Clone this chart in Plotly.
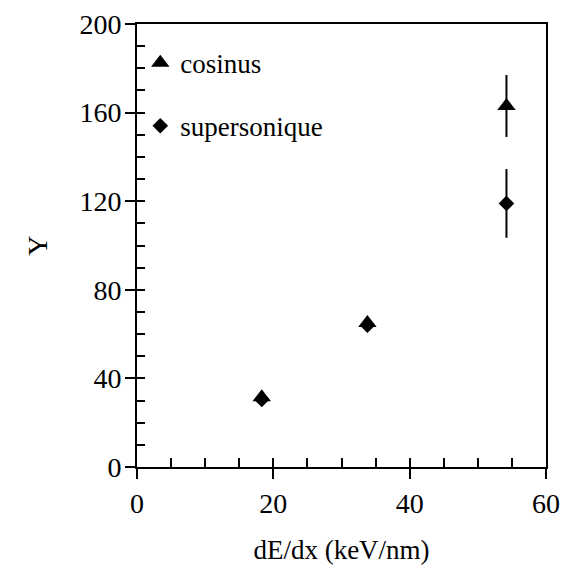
import plotly.graph_objects as go

# Data
dedx = [18.3, 33.8, 54.2]
cosinus = [31.5, 65.0, 163.0]
cosinus_err = [0.0, 0.0, 14.0]
supersonique = [30.5, 64.0, 119.0]
supersonique_err = [0.0, 0.0, 15.5]

x_ticks = [0, 20, 40, 60]
y_ticks = [0, 40, 80, 120, 160, 200]

FONT = "Liberation Serif, Times New Roman, serif"

fig = go.Figure()
fig.add_trace(go.Scatter(
    x=dedx, y=supersonique, mode="markers", name="supersonique",
    legendgroup="b", legendrank=2,
    marker=dict(symbol="diamond", size=12, color="black"),
    error_y=dict(type="data", array=supersonique_err, visible=True,
                 color="black", thickness=2, width=0),
))
fig.add_trace(go.Scatter(
    x=dedx, y=cosinus, mode="markers", name="cosinus",
    legendgroup="a", legendrank=1,
    marker=dict(symbol="triangle-up", size=16, color="black"),
    error_y=dict(type="data", array=cosinus_err, visible=True,
                 color="black", thickness=2, width=0),
))
# helper trace for the inside (minor) tick axes
fig.add_trace(go.Scatter(x=[None], y=[None], xaxis="x2", yaxis="y2",
                         showlegend=False, hoverinfo="skip"))

fig.update_layout(
    width=564, height=571,
    margin=dict(l=137, r=18, t=24, b=104),
    paper_bgcolor="white", plot_bgcolor="white",
    font=dict(family=FONT, color="black", size=28),
    showlegend=True,
    legend=dict(x=0.008, y=0.967, xanchor="left", yanchor="top",
                bgcolor="rgba(0,0,0,0)", font=dict(size=27, family=FONT),
                traceorder="grouped", tracegroupgap=25, itemwidth=30),
    xaxis=dict(range=[0, 60], tickvals=x_ticks, ticks="outside", ticklen=10,
               tickwidth=2, tickcolor="black", showline=True, linewidth=2,
               linecolor="black", mirror=True, showgrid=False, zeroline=False,
               automargin=False,
               title=dict(text="dE/dx (keV/nm)", font=dict(size=27), standoff=23),
               tickfont=dict(size=28)),
    yaxis=dict(range=[0, 200], tickvals=y_ticks, ticks="outside", ticklen=10,
               tickwidth=2, tickcolor="black", showline=True, linewidth=2,
               linecolor="black", mirror=True, showgrid=False, zeroline=False,
               automargin=False, ticklabelstandoff=-2,
               title=dict(text="Y", font=dict(size=28), standoff=24),
               tickfont=dict(size=28)),
    xaxis2=dict(overlaying="x", matches="x", side="bottom", dtick=5, tick0=0,
                ticks="inside", ticklen=9, tickwidth=2, tickcolor="black",
                showticklabels=False, showgrid=False, zeroline=False,
                showline=False),
    yaxis2=dict(overlaying="y", matches="y", side="left", dtick=10, tick0=0,
                ticks="inside", ticklen=8, tickwidth=2, tickcolor="black",
                showticklabels=False, showgrid=False, zeroline=False,
                showline=False),
)

fig.write_html("out.html", config={"displayModeBar": False},
               post_script="document.body.style.margin='0';document.body.style.padding='0';")
